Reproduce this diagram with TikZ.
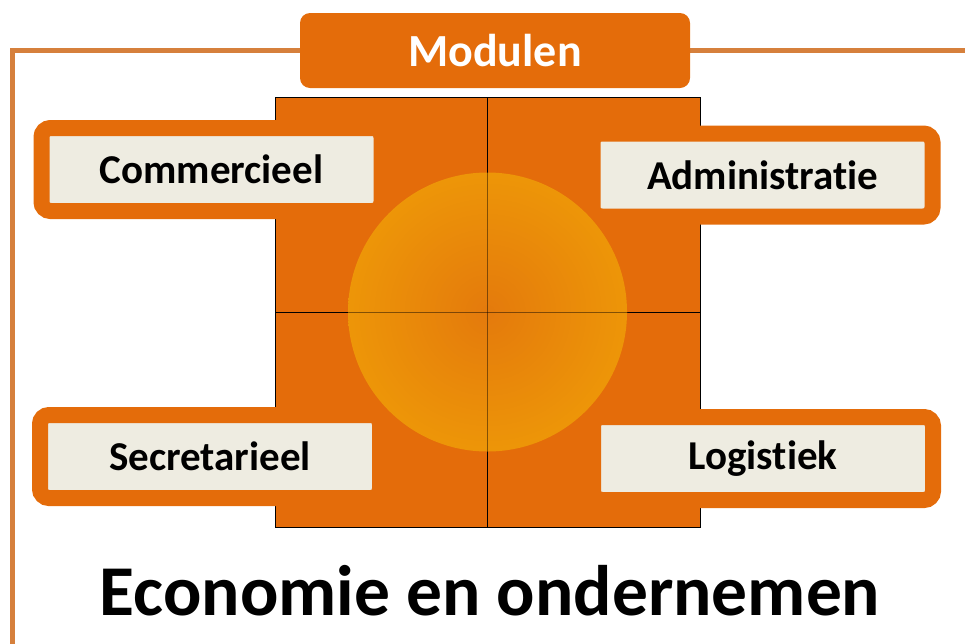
\documentclass[tikz,border=0pt]{standalone}
\usepackage{fontspec}
\setmainfont[Ligatures=CommonOff]{Carlito}
\usetikzlibrary{positioning}
\definecolor{modorange}{HTML}{E46C0A}
\definecolor{framecol}{HTML}{D6803C}
\definecolor{tanfill}{HTML}{EEECE1}
\definecolor{sunin}{HTML}{E47A0C}
\definecolor{sunout}{HTML}{F2A406}
\pgfdeclareradialshading{sun}{\pgfpoint{0bp}{0bp}}{color(0bp)=(sunin); color(38bp)=(sunout); color(50bp)=(sunout)}

\begin{document}
\begin{tikzpicture}[x=1pt,y=-1pt,
    quad/.style={draw=black,line width=1pt,fill=modorange,outer sep=0pt,inner sep=0pt,
        minimum width=212.5pt,minimum height=215pt},
    labelbox/.style={draw=modorange,line width=16pt,fill=tanfill,rounded corners=9pt,
        minimum width=340pt,minimum height=83pt,inner sep=0pt,text=black,
        font=\fontsize{41}{41}\selectfont\bfseries},
    crossline/.style={black,opacity=.45,line width=1pt}]
    \useasboundingbox (0,0) rectangle (965,643);
    %outer frame, runs off the page on the right and bottom
    \draw [framecol,line width=5pt] (12,50) rectangle (1000,700);
    \node[fill=modorange,rounded corners=10pt,minimum width=390pt,minimum height=75pt,
        text=white,font=\fontsize{46}{46}\selectfont\bfseries] (modulen) at (495,50.5) {Modulen};
    %the four quarters of the square
    \node[quad,anchor=south east] (qnw) at (487.5,312) {};
    \node[quad,right=0pt of qnw] (qne) {};
    \node[quad,below=0pt of qnw] (qsw) {};
    \node[quad,right=0pt of qsw] (qse) {};
    %modules
    \node[labelbox] (comm) at (211.5,169.5) {Commercieel};
    \node[labelbox] (admin) at (762.5,175) {Administratie};
    \node[labelbox] (secr) at (210,456.5) {Secretarieel};
    \node[labelbox] (logi) at (763,458.5) {Logistiek};
    %sun in the middle
    \node[circle,shade,shading=sun,minimum size=279pt,inner sep=0pt] (sun) at (qnw.south east) {};
    \draw[crossline] (sun.north) -- (sun.south);
    \draw[crossline] (sun.west) -- (sun.east);
    \node[anchor=base,font=\fontsize{71.5}{71.5}\selectfont\bfseries] (title) at (490,615) {Economie en ondernemen};
\end{tikzpicture}
\end{document}
